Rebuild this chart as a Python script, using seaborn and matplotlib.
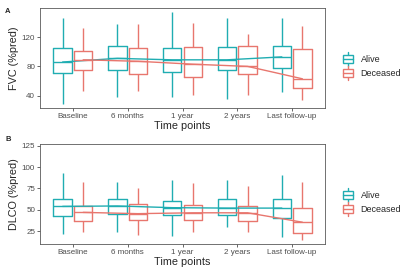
import numpy as np
import pandas as pd
import matplotlib
matplotlib.use("Agg")
import matplotlib.pyplot as plt
import seaborn as sns
from matplotlib.legend_handler import HandlerBase
from matplotlib.patches import Rectangle
from matplotlib.lines import Line2D

# time points on the x axis
times = ["Baseline", "6 months", "1 year", "2 years", "Last follow-up"]
groups = ["Alive", "Deceased"]

# five-number summaries [low whisker, Q1, median, Q3, high whisker] per time point
fvc_alive = [[29, 70.5, 86, 105, 146], [38, 75.5, 91, 108, 138], [38, 72, 89, 105, 154],
             [35.5, 74.5, 89, 107, 146], [44.5, 78, 93, 108, 146]]
fvc_deceased = [[46, 75, 89, 101, 133], [46, 69, 87, 105, 138], [41, 65.5, 83, 106, 140],
                [40.5, 69, 80, 108, 124], [33.5, 50.5, 63, 104, 135]]
dlco_alive = [[21.5, 42.5, 54, 63, 92.5], [24, 45.5, 54.5, 63, 83], [19.5, 43.5, 52.5, 60.5, 85],
              [29.5, 44.5, 52, 62.5, 85], [18.5, 40, 52, 63, 90.5]]
dlco_deceased = [[23.5, 36.5, 47, 54.5, 83], [21, 38.5, 45.5, 57, 75], [23.5, 38, 46.5, 56, 81.5],
                 [23.5, 36.5, 46.5, 54.5, 78], [15, 22.5, 35.5, 52.5, 82]]

palette = {"Alive": "#20ADB2", "Deceased": "#E8766E"}


def make_frame(alive, deceased):
    rows = []
    for g, summ in zip(groups, [alive, deceased]):
        for t, vals in zip(times, summ):
            for v in vals:
                rows.append({"time": t, "status": g, "value": v})
    return pd.DataFrame(rows)


class BoxKey(HandlerBase):
    # ggplot style key: box with median and short whiskers
    def create_artists(self, legend, orig, xd, yd, w, h, fs, trans):
        c = orig.get_color()
        x0, y0 = -xd, -yd
        cx = x0 + w / 2
        bw = w * 0.85
        box = Rectangle((cx - bw / 2, y0 + h * 0.18), bw, h * 0.64, fc="white", ec=c, lw=1.0, transform=trans)
        med = Line2D([cx - bw / 2, cx + bw / 2], [y0 + h * 0.5] * 2, color=c, lw=1.0, transform=trans)
        wl = Line2D([cx, cx], [y0, y0 + h * 0.18], color=c, lw=1.0, transform=trans)
        wh = Line2D([cx, cx], [y0 + h * 0.82, y0 + h], color=c, lw=1.0, transform=trans)
        return [wl, wh, box, med]


sns.set_style("white")
plt.rcParams["font.family"] = ["Liberation Sans", "DejaVu Sans"]

fig = plt.figure(figsize=(4, 2.71), dpi=100)
axA = fig.add_axes([40 / 400, 1 - 108 / 271, 285 / 400, 100 / 271])
axB = fig.add_axes([40 / 400, 1 - 244 / 271, 285 / 400, 100 / 271])

panels = [(axA, fvc_alive, fvc_deceased, "FVC (%pred)", (23, 160), [40, 80, 120]),
          (axB, dlco_alive, dlco_deceased, "DLCO (%pred)", (10, 127), [25, 50, 75, 100, 125])]

for ax, alive, deceased, ylab, ylim, yt in panels:
    df = make_frame(alive, deceased)
    sns.boxplot(data=df, x="time", y="value", hue="status", order=times, hue_order=groups,
                palette=palette, fill=False, width=0.75, gap=0.1, whis=(0, 100),
                linewidth=1.0, capprops={"linewidth": 0}, legend=False, ax=ax)
    sns.pointplot(data=df, x="time", y="value", hue="status", order=times, hue_order=groups,
                  palette=palette, estimator="median", errorbar=None, dodge=0.375,
                  markersize=0, linewidth=1.0, legend=False, ax=ax)
    ax.set_ylim(*ylim)
    ax.set_xlim(-0.6, 4.6)
    ax.set_yticks(yt)
    ax.set_ylabel(ylab, fontsize=7.8, labelpad=2)
    ax.set_xlabel("Time points", fontsize=7.8, labelpad=1)
    ax.tick_params(axis="both", labelsize=5.8, colors="#4D4D4D", length=2, width=0.6, pad=1.5,
                   left=True, bottom=True)
    for s in ax.spines.values():
        s.set_color("#5A5A5A")
        s.set_linewidth(0.6)
    handles = [Line2D([], [], color=palette[g]) for g in groups]
    ax.legend(handles, groups, handler_map={Line2D: BoxKey()}, loc="center left",
              bbox_to_anchor=(1.03, 0.42), frameon=False, fontsize=6.5, handlelength=1.3,
              handleheight=1.9, handletextpad=0.8, labelspacing=0.05)

fig.text(5 / 400, 1 - 13 / 271, "A", fontsize=5.5, fontweight="bold")
fig.text(5 / 400, 1 - 141 / 271, "B", fontsize=5.5, fontweight="bold")

fig.savefig("out.png", dpi=100)
